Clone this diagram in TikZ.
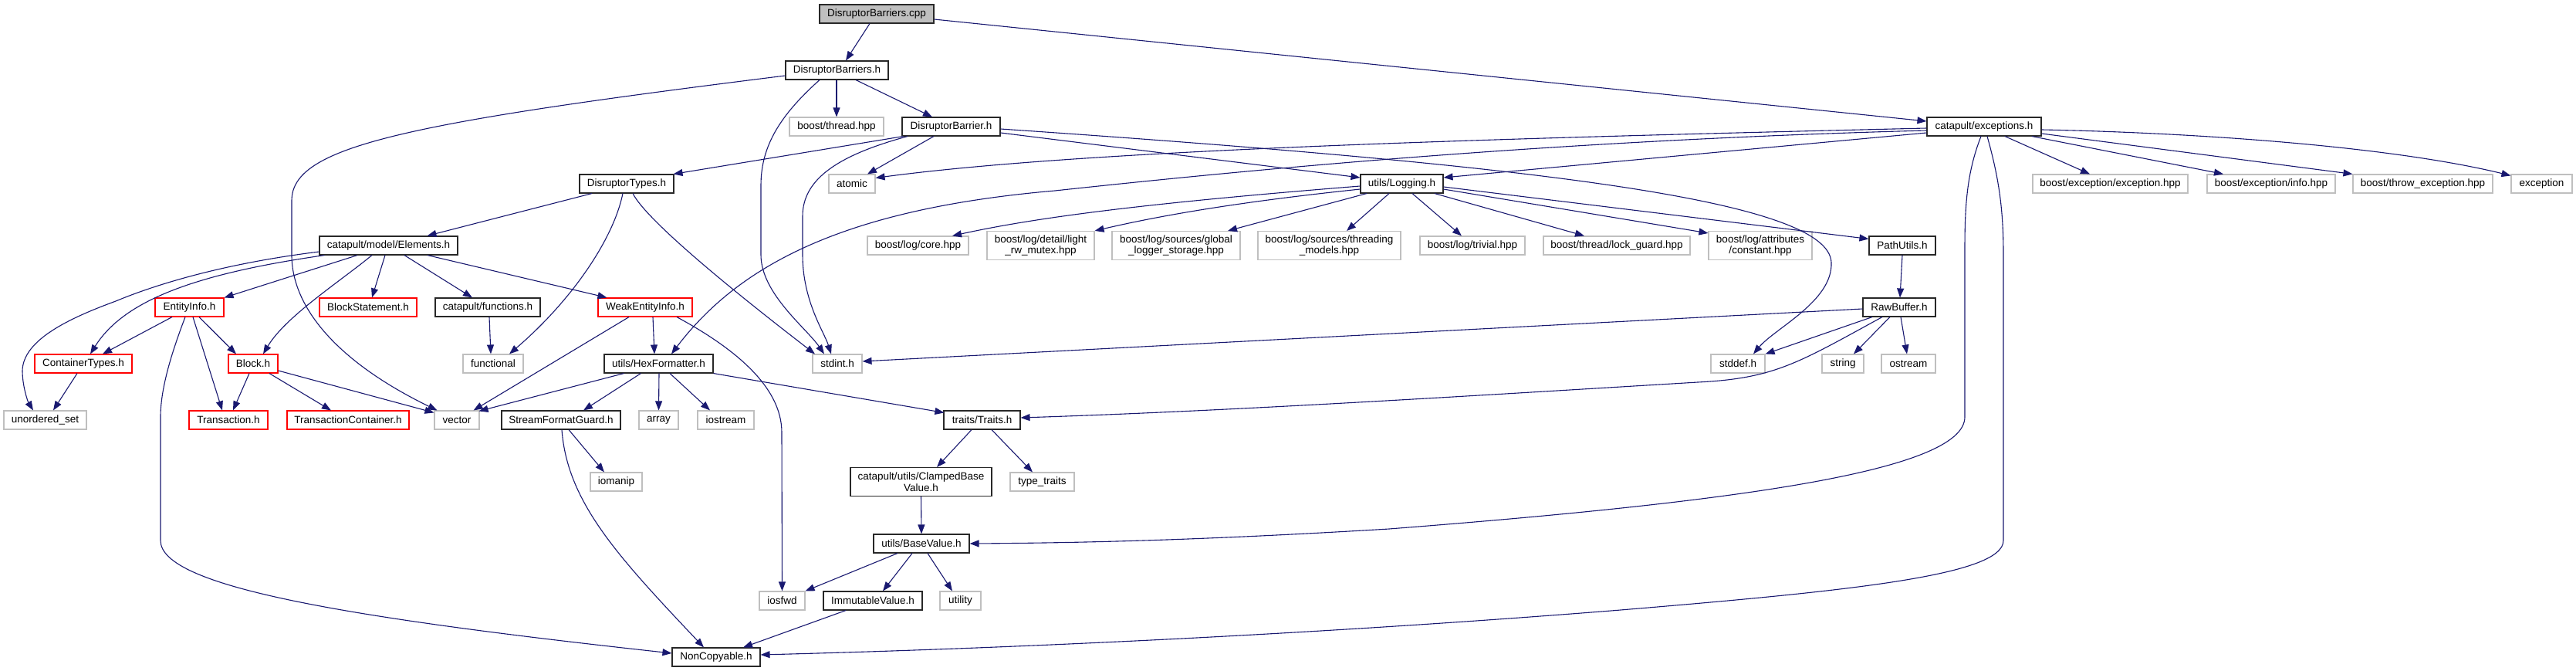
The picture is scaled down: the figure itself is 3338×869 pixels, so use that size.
\documentclass[tikz,border=0pt]{standalone}
\usepackage{fontspec}
\setmainfont{Liberation Sans}
\usetikzlibrary{arrows.meta,calc}
\definecolor{edgeblue}{RGB}{25,25,112}
\definecolor{greyb}{RGB}{191,191,191}
\definecolor{darkb}{RGB}{40,40,40}
\tikzset{
  nbox/.style={draw=darkb, line width=1.1pt, fill=white, inner sep=0pt, minimum height=24pt, font=\fontsize{13.5}{14.5}\selectfont, text=black},
  gbox/.style={nbox, draw=greyb},
  rbox/.style={nbox, draw=red},
  twoline/.style={minimum height=37pt, align=center},
  conn/.style={draw=edgeblue, line width=1.1pt, -{Triangle[length=12pt,width=9pt]}},
}
\begin{document}
\begin{tikzpicture}[x=1pt,y=-1pt]
\useasboundingbox (0,0) rectangle (3338,869);
% ---------- nodes ----------
\node[nbox, fill=greyb, minimum width=148pt] (cpp) at (1136,18) {DisruptorBarriers.cpp};
\node[nbox, minimum width=133pt] (dbh) at (1084.5,91) {DisruptorBarriers.h};
\node[gbox, minimum width=122pt] (bth) at (1084,164) {boost/thread.hpp};
\node[nbox, minimum width=127pt] (dbr) at (1232.5,164) {DisruptorBarrier.h};
\node[nbox, minimum width=148pt] (exc) at (2571,164) {catapult/exceptions.h};
\node[nbox, minimum width=122pt] (dty) at (812,238) {DisruptorTypes.h};
\node[gbox, minimum width=60pt] (atm) at (1104,238) {atomic};
\node[nbox, minimum width=107pt] (log) at (1816.5,238) {utils/Logging.h};
\node[gbox, minimum width=201pt] (bee) at (2734.5,238) {boost/exception/exception.hpp};
\node[gbox, minimum width=166pt] (bei) at (2943,238) {boost/exception/info.hpp};
\node[gbox, minimum width=181pt] (bte) at (3139.5,238) {boost/throw\_exception.hpp};
\node[gbox, minimum width=79pt] (exn) at (3293.5,238) {exception};
\node[nbox, minimum width=179pt] (ele) at (503.5,318) {catapult/model/Elements.h};
\node[gbox, minimum width=131pt] (blc) at (1189.5,318) {boost/log/core.hpp};
\node[gbox, twoline, minimum width=139pt] (blm) at (1348.5,318) {boost/log/detail/light\\\_rw\_mutex.hpp};
\node[gbox, twoline, minimum width=166pt] (bls) at (1524,318) {boost/log/sources/global\\\_logger\_storage.hpp};
\node[gbox, twoline, minimum width=185pt] (blt) at (1722.5,318) {boost/log/sources/threading\\\_models.hpp};
\node[gbox, minimum width=136pt] (btr) at (1908,318) {boost/log/trivial.hpp};
\node[gbox, minimum width=190pt] (blg) at (2095,318) {boost/thread/lock\_guard.hpp};
\node[gbox, twoline, minimum width=134pt] (bla) at (2281,318) {boost/log/attributes\\/constant.hpp};
\node[nbox, minimum width=86pt] (pth) at (2465,318) {PathUtils.h};
\node[rbox, minimum width=89pt] (ent) at (245.5,398) {EntityInfo.h};
\node[rbox, minimum width=126pt] (bst) at (477,398) {BlockStatement.h};
\node[nbox, minimum width=136pt] (fun) at (632,398) {catapult/functions.h};
\node[rbox, minimum width=122pt] (wei) at (836,398) {WeakEntityInfo.h};
\node[nbox, minimum width=94pt] (raw) at (2461,398) {RawBuffer.h};
\node[rbox, minimum width=126pt] (con) at (108,471) {ContainerTypes.h};
\node[rbox, minimum width=64pt] (blk) at (328,471) {Block.h};
\node[gbox, minimum width=78pt] (fnl) at (639,471) {functional};
\node[nbox, minimum width=141pt] (hex) at (853.5,471) {utils/HexFormatter.h};
\node[gbox, minimum width=64pt] (sti) at (1085,471) {stdint.h};
\node[gbox, minimum width=70pt] (std) at (2252,471) {stddef.h};
\node[gbox, minimum width=54pt] (str) at (2388,471) {string};
\node[gbox, minimum width=70pt] (ost) at (2473,471) {ostream};
\node[gbox, minimum width=107pt] (uns) at (58.5,544) {unordered\_set};
\node[rbox, minimum width=102pt] (trn) at (296,544) {Transaction.h};
\node[rbox, minimum width=158pt] (tcn) at (451,544) {TransactionContainer.h};
\node[gbox, minimum width=58pt] (vec) at (592,544) {vector};
\node[nbox, minimum width=154pt] (sfg) at (727,544) {StreamFormatGuard.h};
\node[gbox, minimum width=51pt] (arr) at (853.5,544) {array};
\node[gbox, minimum width=73pt] (ios) at (940.5,544) {iostream};
\node[nbox, minimum width=99pt] (trt) at (1272.5,544) {traits/Traits.h};
\node[gbox, minimum width=67pt] (iom) at (798.5,624) {iomanip};
\node[nbox, twoline, minimum width=183pt] (cbv) at (1193.5,624) {catapult/utils/ClampedBase\\Value.h};
\node[gbox, minimum width=83pt] (tyt) at (1350.5,624) {type\_traits};
\node[nbox, minimum width=124pt] (bvl) at (1194,704) {utils/BaseValue.h};
\node[gbox, minimum width=59pt] (iof) at (1013.5,778) {iosfwd};
\node[nbox, minimum width=128pt] (imm) at (1131,778) {ImmutableValue.h};
\node[gbox, minimum width=53pt] (utl) at (1244.5,778) {utility};
\node[nbox, minimum width=114pt] (ncp) at (928,851) {NonCopyable.h};
% ---------- connectors ----------
\draw[conn] ($(cpp.south)+(-9,0)$) -- ($(dbh.north)+(11.5,0)$);
\draw[conn] ($(cpp.east)+(0,7)$) -- ($(exc.west)+(0,-7)$);
\draw[conn] ($(dbh.west)+(0,7)$) .. controls (520,160) and (378,190) .. (378,260) -- (378,330) .. controls (378,400) and (440,470) .. ($(vec.north west)+(4,0)$);
\draw[conn] ($(dbh.south)+(-22.5,0)$) .. controls (1010,150) and (986,190) .. (986,240) -- (986,330) .. controls (986,380) and (1045,425) .. ($(sti.north)+(-17,0)$);
\draw[conn] ($(dbh.south)+(-0.5,0)$) -- (bth.north);
\draw[conn] ($(dbh.south)+(24.5,0)$) -- ($(dbr.north)+(-24.5,0)$);
\draw[conn] ($(dbr.south west)+(2,0)$) -- ($(dty.north east)+(-1,0)$);
\draw[conn] ($(dbr.south)+(-22.5,0)$) -- ($(atm.north)+(20,0)$);
\draw[conn] ($(dbr.south)+(-56.5,0)$) .. controls (1090,200) and (1040,230) .. (1040,280) -- (1040,330) .. controls (1040,390) and (1068,430) .. ($(sti.north)+(-8,0)$);
\draw[conn] ($(dbr.east)+(0,8)$) -- ($(log.west)+(0,-8)$);
\draw[conn] ($(dbr.east)+(0,3)$) .. controls (2000,215) and (2370,260) .. (2373,340) .. controls (2375,390) and (2300,425) .. ($(std.north)+(20,0)$);
\draw[conn] ($(exc.west)+(0,2)$) .. controls (1900,180) and (1400,195) .. ($(atm.north east)+(0,5)$);
\draw[conn] ($(exc.west)+(0,8)$) -- ($(log.east)+(0,-8)$);
\draw[conn] ($(exc.west)+(0,5)$) .. controls (2000,182) and (1600,222) .. (1367,247) .. controls (1100,270) and (960,340) .. ($(hex.north)+(16.5,0)$);
\draw[conn] ($(exc.south)+(27,0)$) -- ($(bee.north)+(-26.5,0)$);
\draw[conn] ($(exc.south)+(62,0)$) -- ($(bei.north)+(-62,0)$);
\draw[conn] ($(exc.east)+(0,9)$) -- (bte.north west);
\draw[conn] ($(exc.east)+(0,4)$) .. controls (2850,172) and (3100,190) .. ($(exn.north west)+(0,2)$);
\draw[conn] ($(exc.south)+(-4,0)$) .. controls (2550,220) and (2546,260) .. (2546,320) -- (2546,540) .. controls (2546,610) and (2250,650) .. (1800,685) .. controls (1550,700) and (1400,703) .. (bvl.east);
\draw[conn] ($(exc.south)+(4,0)$) .. controls (2590,230) and (2596,270) .. (2596,330) -- (2596,700) .. controls (2596,745) and (2400,765) .. (2100,790) .. controls (1700,822) and (1300,840) .. ($(ncp.east)+(0,-3)$);
\draw[conn] ($(dty.south)+(-45,0)$) -- ($(ele.north)+(50,0)$);
\draw[conn] ($(dty.south)+(-5,0)$) .. controls (795,310) and (740,390) .. ($(fnl.north)+(21,0)$);
\draw[conn] ($(dty.south)+(8,0)$) .. controls (840,290) and (980,400) .. ($(sti.north)+(-29,0)$);
\draw[conn] ($(log.west)+(0,3)$) .. controls (1500,262) and (1350,280) .. ($(blc.north)+(44.5,0)$);
\draw[conn] ($(log.west)+(0,7)$) .. controls (1600,262) and (1500,280) .. (blm.north east);
\draw[conn] ($(log.south)+(-45.5,0)$) -- ($(bls.north)+(67,0)$);
\draw[conn] ($(log.south)+(-16.5,0)$) -- ($(blt.north)+(22.5,0)$);
\draw[conn] ($(log.south)+(13.5,0)$) -- ($(btr.north)+(-14,0)$);
\draw[conn] ($(log.south)+(42.5,0)$) -- ($(blg.north)+(-42,0)$);
\draw[conn] ($(log.east)+(0,7)$) -- ($(bla.north west)+(0,3)$);
\draw[conn] ($(log.east)+(0,4)$) -- ($(pth.north west)+(0,4)$);
\draw[conn] (pth.south) -- ($(raw.north)+(1,0)$);
\draw[conn] ($(raw.west)+(0,2)$) -- ($(sti.east)+(0,-3)$);
\draw[conn] ($(raw.south)+(-35,0)$) -- (std.north east);
\draw[conn] ($(raw.south)+(-12,0)$) -- ($(str.north)+(14,0)$);
\draw[conn] ($(raw.south)+(2,0)$) -- ($(ost.north)+(-2,0)$);
\draw[conn] ($(raw.south)+(-22,0)$) .. controls (2330,470) and (2300,490) .. (2200,495) .. controls (1900,513) and (1600,532) .. ($(trt.east)+(0,-3)$);
\draw[conn] ($(ele.west)+(0,8)$) .. controls (300,340) and (210,365) .. (150,390) .. controls (90,412) and (30,440) .. (29,480) .. controls (29,500) and (36,520) .. ($(uns.north)+(-15.5,0)$);
\draw[conn] ($(ele.south west)+(7,0)$) .. controls (250,355) and (160,390) .. ($(con.north)+(9,0)$);
\draw[conn] ($(ele.south)+(-40.5,0)$) -- (ent.north east);
\draw[conn] ($(ele.south)+(-21.5,0)$) .. controls (440,365) and (370,410) .. ($(blk.north)+(13,0)$);
\draw[conn] ($(ele.south)+(-4.5,0)$) -- ($(bst.north)+(5,0)$);
\draw[conn] ($(ele.south)+(20.5,0)$) -- ($(fun.north)+(-20,0)$);
\draw[conn] ($(ele.south)+(50.5,0)$) -- ($(wei.north west)+(12,0)$);
\draw[conn] ($(ent.south)+(-22.5,0)$) -- ($(con.north)+(25,0)$);
\draw[conn] ($(ent.south)+(12.5,0)$) -- ($(blk.north)+(-22,0)$);
\draw[conn] ($(ent.south)+(4.5,0)$) -- ($(trn.north)+(-8,0)$);
\draw[conn] ($(ent.south)+(-5.5,0)$) .. controls (225,450) and (208,500) .. (208,540) -- (208,700) .. controls (208,760) and (450,800) .. ($(ncp.west)+(0,-5)$);
\draw[conn] ($(fun.south)+(2,0)$) -- ($(fnl.north)+(-3,0)$);
\draw[conn] ($(wei.south)+(-21,0)$) -- ($(vec.north east)+(-8,0)$);
\draw[conn] ($(wei.south)+(10,0)$) -- ($(hex.north)+(-5.5,0)$);
\draw[conn] ($(wei.south)+(41,0)$) .. controls (950,450) and (1013,500) .. (1013,560) -- (iof.north);
\draw[conn] ($(con.south)+(-8,0)$) -- ($(uns.north)+(10.5,0)$);
\draw[conn] ($(blk.south)+(-5,0)$) -- ($(trn.north)+(6,0)$);
\draw[conn] ($(blk.south)+(21,0)$) -- ($(tcn.north)+(-22,0)$);
\draw[conn] ($(blk.east)+(0,9)$) -- ($(vec.north west)+(0,3)$);
\draw[conn] ($(hex.south west)+(26,0)$) -- ($(vec.north east)+(-1,1)$);
\draw[conn] ($(hex.south west)+(48,0)$) -- ($(sfg.north)+(29,0)$);
\draw[conn] ($(hex.south)+(0.5,0)$) -- (arr.north);
\draw[conn] ($(hex.south)+(14.5,0)$) -- ($(ios.north)+(-20.5,0)$);
\draw[conn] (hex.south east) -- ($(trt.north west)+(1,3)$);
\draw[conn] ($(sfg.south)+(10,0)$) -- ($(iom.north)+(-15.5,0)$);
\draw[conn] ($(sfg.south)+(1,0)$) .. controls (735,650) and (800,720) .. ($(ncp.north)+(-16,0)$);
\draw[conn] ($(trt.south)+(-13.5,0)$) -- ($(cbv.north)+(20.5,0)$);
\draw[conn] ($(trt.south)+(12.5,0)$) -- ($(tyt.north)+(-12.5,0)$);
\draw[conn] (cbv.south) -- (bvl.north);
\draw[conn] ($(bvl.south)+(-31,0)$) -- (iof.north east);
\draw[conn] ($(bvl.south)+(-12,0)$) -- ($(imm.north)+(13,0)$);
\draw[conn] ($(bvl.south)+(8,0)$) -- ($(utl.north)+(-10.5,0)$);
\draw[conn] ($(imm.south)+(-35,0)$) -- ($(ncp.north)+(35,0)$);
\end{tikzpicture}
\end{document}
